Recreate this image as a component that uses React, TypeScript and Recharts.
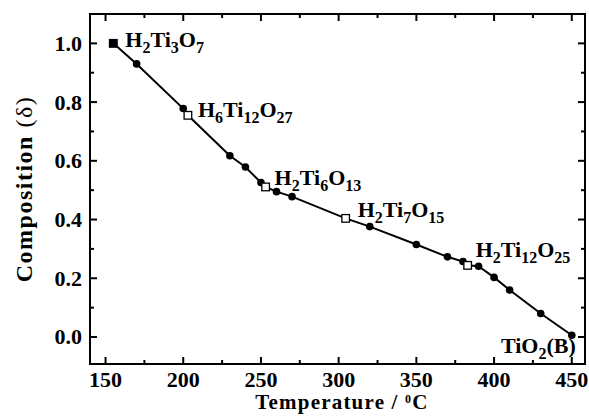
import { ScatterChart, Scatter, XAxis, YAxis, ReferenceArea } from 'recharts';

// measured points (temperature in °C, composition δ)
const circleTemps = [170, 200, 230, 240, 250, 260, 270, 320, 350, 370, 380, 390, 400, 410, 430, 450];
const circleDelta = [0.93, 0.778, 0.617, 0.579, 0.526, 0.495, 0.478, 0.376, 0.315, 0.273, 0.257, 0.241, 0.203, 0.16, 0.08, 0.006];

// phase compositions (open squares)
const squareTemps = [155, 203, 253, 304.5, 383];
const squareDelta = [1.0, 0.755, 0.511, 0.404, 0.244];

// phase names, digits become subscripts
const phaseNames = ['H2Ti3O7', 'H6Ti12O27', 'H2Ti6O13', 'H2Ti7O15', 'H2Ti12O25', 'TiO2(B)'];
const phaseTemps = [155, 203, 253, 304.5, 383, 450];
const phaseDelta = [1.0, 0.755, 0.511, 0.404, 0.244, 0.006];

const xTicks = [150, 175, 200, 225, 250, 275, 300, 325, 350, 375, 400, 425, 450];
const yTicks = [0, 0.1, 0.2, 0.3, 0.4, 0.5, 0.6, 0.7, 0.8, 0.9, 1.0];

const FONT = '"Liberation Serif", "Times New Roman", serif';
const W = 589;
const H = 418;
const TOP = 14;
const LEFT = 90;
const RIGHT = 585;
const BOTTOM = 364;
const X_DOMAIN = [140, 458.5];
const Y_DOMAIN = [-0.092, 1.1];

const circles = circleTemps.map((t, i) => ({ t, d: circleDelta[i] }));
const squares = squareTemps.map((t, i) => ({ t, d: squareDelta[i] }));
const allPoints = [...circles, ...squares].sort((a, b) => a.t - b.t);
const phases = phaseNames.map((name, i) => ({ t: phaseTemps[i], d: phaseDelta[i], name }));

// label offsets from the marker: dx, dy, anchor
const labelPos: Record<string, [number, number, string]> = {
    H2Ti3O7: [12, 4, 'start'],
    H6Ti12O27: [10, 2, 'start'],
    H2Ti6O13: [9, -2, 'start'],
    H2Ti7O15: [12, -1, 'start'],
    H2Ti12O25: [8, -8, 'start'],
    'TiO2(B)': [4, 18, 'end'],
};

function Formula({ text, x, y, anchor }: any) {
    const parts = text.match(/\d+|[^\d]+/g) || [];
    return (
        <text x={x} y={y} textAnchor={anchor} fontFamily={FONT} fontWeight="bold" fontSize={22} fill="#000">
            {parts.map((p: string, i: number) => {
                const isSub = /\d/.test(p);
                const prevSub = i > 0 && /\d/.test(parts[i - 1]);
                let dy = 0;
                if (isSub) dy = 6;
                else if (prevSub) dy = -6;
                return (
                    <tspan key={i} dy={dy} fontSize={isSub ? 16 : 22}>{p}</tspan>
                );
            })}
        </text>
    );
}

function XTick({ x, payload }: any) {
    const v = payload.value;
    const major = v % 50 === 0;
    const len = major ? 7 : 4;
    return (
        <g>
            <line x1={x} x2={x} y1={BOTTOM} y2={BOTTOM - len} stroke="#000" strokeWidth={2} />
            <line x1={x} x2={x} y1={TOP} y2={TOP + len} stroke="#000" strokeWidth={2} />
            {major && (
                <text x={x} y={BOTTOM + 23} textAnchor="middle" fontFamily={FONT} fontWeight="bold" fontSize={22} fill="#000">
                    {v}
                </text>
            )}
        </g>
    );
}

function YTick({ y, payload }: any) {
    const v = payload.value;
    const major = Math.round(v * 10) % 2 === 0;
    const len = major ? 7 : 4;
    return (
        <g>
            <line x1={LEFT} x2={LEFT + len} y1={y} y2={y} stroke="#000" strokeWidth={2} />
            <line x1={RIGHT} x2={RIGHT - len} y1={y} y2={y} stroke="#000" strokeWidth={2} />
            {major && (
                <text x={82} y={y + 7.5} textAnchor="end" fontFamily={FONT} fontWeight="bold" fontSize={22} fill="#000">
                    {v.toFixed(1)}
                </text>
            )}
        </g>
    );
}

export default function App() {
    return (
        <div style={{ position: 'absolute', left: 0, top: 0, width: W, height: H, background: '#fff' }}>
            <ScatterChart width={W} height={H} margin={{ top: TOP, right: W - RIGHT, bottom: 0, left: 0 }}>
                <XAxis
                    type="number"
                    dataKey="t"
                    domain={X_DOMAIN}
                    ticks={xTicks}
                    height={H - BOTTOM}
                    axisLine={false}
                    tickLine={false}
                    tick={<XTick />}
                    interval={0}
                    allowDataOverflow
                    label={{
                        content: () => (
                            <text x={342} y={409} textAnchor="middle" fontFamily={FONT} fontWeight="bold" fontSize={21} letterSpacing={1.2} fill="#000">
                                Temperature / <tspan dy={-6} fontSize={12}>0</tspan><tspan dy={6}>C</tspan>
                            </text>
                        ),
                    }}
                />
                <YAxis
                    type="number"
                    dataKey="d"
                    domain={Y_DOMAIN}
                    ticks={yTicks}
                    width={LEFT}
                    axisLine={false}
                    tickLine={false}
                    tick={<YTick />}
                    interval={0}
                    allowDataOverflow
                    label={{
                        content: () => (
                            <text x={32} y={189} transform="rotate(-90 32 189)" textAnchor="middle" fontFamily={FONT} fontSize={24} letterSpacing={1.5} fill="#000">
                                <tspan fontWeight="bold">Composition</tspan> (δ)
                            </text>
                        ),
                    }}
                />
                <ReferenceArea
                    x1={X_DOMAIN[0]}
                    x2={X_DOMAIN[1]}
                    y1={Y_DOMAIN[0]}
                    y2={Y_DOMAIN[1]}
                    fill="none"
                    stroke="#000"
                    strokeWidth={2}
                    ifOverflow="visible"
                />
                <Scatter
                    data={allPoints}
                    line={{ stroke: '#000', strokeWidth: 2 }}
                    lineType="joint"
                    shape={() => <g />}
                    isAnimationActive={false}
                />
                <Scatter
                    data={circles}
                    shape={(p: any) => <circle cx={p.cx} cy={p.cy} r={3.8} fill="#000" />}
                    isAnimationActive={false}
                />
                <Scatter
                    data={squares}
                    shape={(p: any) => (
                        <rect
                            x={p.cx - 3.8}
                            y={p.cy - 3.8}
                            width={7.6}
                            height={7.6}
                            fill={p.payload.t === squareTemps[0] ? '#000' : '#fff'}
                            stroke="#000"
                            strokeWidth={1.3}
                        />
                    )}
                    isAnimationActive={false}
                />
                <Scatter
                    data={phases}
                    shape={(p: any) => {
                        const [dx, dy, anchor] = labelPos[p.payload.name];
                        return <Formula text={p.payload.name} x={p.cx + dx} y={p.cy + dy} anchor={anchor} />;
                    }}
                    isAnimationActive={false}
                />
            </ScatterChart>
        </div>
    );
}
